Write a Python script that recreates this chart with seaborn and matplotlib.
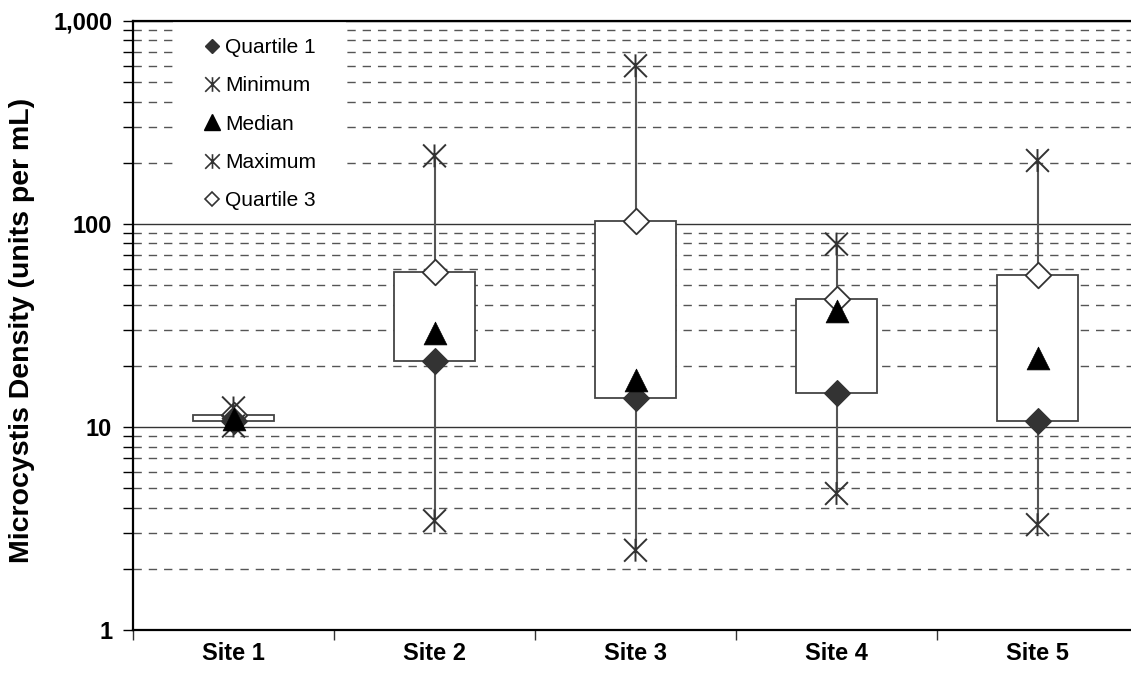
import numpy as np
import pandas as pd
import matplotlib
matplotlib.use("Agg")
import matplotlib.pyplot as plt
import seaborn as sns
from matplotlib.path import Path
from matplotlib.lines import Line2D
from matplotlib.patches import Rectangle
from matplotlib.ticker import FixedLocator, NullFormatter

sites = ["Site 1", "Site 2", "Site 3", "Site 4", "Site 5"]
minimum = [10.1, 3.45, 2.47, 4.7, 3.3]
quartile1 = [10.7, 21.0, 13.9, 14.7, 10.7]
median = [10.9, 29.0, 17.0, 37.4, 21.8]
quartile3 = [11.5, 58.0, 103.0, 42.5, 56.0]
maximum = [12.4, 216.0, 600.0, 79.5, 205.0]
y_ticks = [1, 10, 100, 1000]
y_tick_labels = ["1", "10", "100", "1,000"]

sns.set_theme(style="white")
plt.rcParams["font.family"] = ["Liberation Sans", "DejaVu Sans"]
plt.rcParams["text.color"] = "black"

df = pd.DataFrame({
    "site": sites,
    "pos": np.arange(len(sites)),
    "min": minimum, "q1": quartile1, "med": median,
    "q3": quartile3, "max": maximum,
})

W, H = 1131, 681
fig = plt.figure(figsize=(W / 100, H / 100), dpi=100)
ax = fig.add_axes([133 / W, 1 - 630 / H, 1005 / W, (630 - 20.7) / H])

ax.set_yscale("log")
ax.set_ylim(1, 1000)
ax.set_xlim(-0.5, len(sites) - 0.5)

# grid
minor_vals = [m * d for d in (1, 10, 100) for m in range(2, 10)]
ax.yaxis.set_major_locator(FixedLocator(y_ticks))
ax.yaxis.set_minor_locator(FixedLocator(minor_vals))
ax.set_yticklabels(y_tick_labels)
ax.yaxis.set_minor_formatter(NullFormatter())
ax.grid(which="major", axis="y", color="#333333", lw=1.0, zorder=0)
ax.grid(which="minor", axis="y", color="#555555", lw=1.0,
        linestyle=(0, (6.0, 5.0)), zorder=0)
ax.grid(which="both", axis="x", visible=False)
ax.set_axisbelow(True)

# white backdrop behind the legend (hides gridlines there)
ax.add_patch(Rectangle((40 / 1005, (630 - 205) / 609.3), 173 / 1005, 1.0,
                       transform=ax.transAxes, facecolor="white",
                       edgecolor="none", zorder=1, clip_on=True))

# whiskers
ax.vlines(df["pos"], df["min"], df["max"], color="#555555", lw=1.5, zorder=2)
# boxes
ax.bar(df["pos"], df["q3"] - df["q1"], bottom=df["q1"], width=0.4,
       color="white", edgecolor="#444444", linewidth=1.3, zorder=3)

star = Path([(0, -1), (0, 1), (-1, -1), (1, 1), (-1, 1), (1, -1)],
            [Path.MOVETO, Path.LINETO] * 3)

sns.scatterplot(data=df, x="pos", y="q3", marker="D", s=170,
                facecolor="white", edgecolor="#333333", linewidth=1.3,
                ax=ax, zorder=4, legend=False)
sns.scatterplot(data=df, x="pos", y="min", marker=star, s=270,
                facecolor="none", edgecolor="#333333", linewidth=1.4,
                ax=ax, zorder=5, legend=False)
sns.scatterplot(data=df, x="pos", y="max", marker=star, s=270,
                facecolor="none", edgecolor="#333333", linewidth=1.4,
                ax=ax, zorder=5, legend=False)
sns.scatterplot(data=df, x="pos", y="q1", marker="D", s=170,
                color="#333333", edgecolor="#333333", linewidth=1.0,
                ax=ax, zorder=5, legend=False)
sns.scatterplot(data=df, x="pos", y="med", marker="^", s=270,
                color="black", edgecolor="black", linewidth=0.5,
                ax=ax, zorder=6, legend=False)

# x ticks: marks at boundaries, labels at centers
ax.set_xticks(np.arange(-0.5, len(sites), 1.0))
ax.set_xticklabels([])
ax.set_xticks(np.arange(len(sites)), minor=True)
ax.set_xticklabels(sites, minor=True)
ax.tick_params(axis="x", which="major", direction="out", length=7,
               width=1, color="#333333", bottom=True)
ax.tick_params(axis="x", which="minor", length=0, pad=9,
               labelsize=17, labelcolor="black")
for lab in ax.get_xticklabels(minor=True):
    lab.set_fontweight("bold")
ax.tick_params(axis="y", which="both", direction="out", left=True,
               color="black", width=1, labelcolor="black")
ax.tick_params(axis="y", which="major", length=7, pad=8, labelsize=17)
ax.tick_params(axis="y", which="minor", length=7)
for lab in ax.get_yticklabels():
    lab.set_fontweight("bold")

ax.set_xlabel("")
ax.set_ylabel("")
fig.text(22 / W, 1 - 330 / H, "Microcystis Density (units per mL)",
         rotation=90, ha="center", va="center", fontsize=20.5,
         fontweight="bold", color="black")

for side in ["left", "bottom", "top", "right"]:
    ax.spines[side].set_color("black")
    ax.spines[side].set_linewidth(1.6)
    ax.spines[side].set_visible(True)

# legend
handles = [
    Line2D([], [], marker="D", ls="none", markersize=7.5, color="#333333"),
    Line2D([], [], marker=star, ls="none", markersize=10.5,
           markerfacecolor="none", markeredgecolor="#333333", markeredgewidth=1.2),
    Line2D([], [], marker="^", ls="none", markersize=11, color="black"),
    Line2D([], [], marker=star, ls="none", markersize=10.5,
           markerfacecolor="none", markeredgecolor="#333333", markeredgewidth=1.2),
    Line2D([], [], marker="D", ls="none", markersize=7.5,
           markerfacecolor="white", markeredgecolor="#333333", markeredgewidth=1.2),
]
labels = ["Quartile 1", "Minimum", "Median", "Maximum", "Quartile 3"]
leg = ax.legend(handles, labels, loc="upper left",
                bbox_to_anchor=(205 / W, 1 - 38 / H),
                bbox_transform=fig.transFigure, frameon=False,
                fontsize=15, handlelength=0.7, handletextpad=0.25,
                labelspacing=0.93, borderpad=0, borderaxespad=0)
for t in leg.get_texts():
    t.set_color("black")

fig.savefig("out.png", dpi=100)
